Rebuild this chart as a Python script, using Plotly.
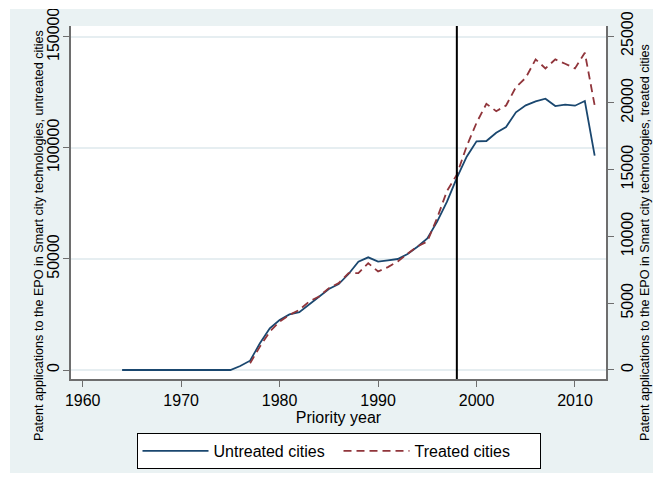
import plotly.graph_objects as go

years = list(range(1964, 2013))
untreated = [0, 0, 0, 0, 0, 0, 0, 0, 0, 0, 0, 0,
             1800, 4200, 12000, 18750, 22500, 25000, 26000, 29700, 33000, 36450,
             38700, 43200, 48750, 50700, 48750, 49350, 49950, 52200, 55500, 59250,
             66750, 75750, 86500, 96000, 102900, 103050, 106800, 109350, 115950,
             119100, 120900, 122100, 118800, 119400, 118950, 121050, 96500]
treated = [None] * 13 + [
             500, 1750, 2870, 3620, 4125, 4500, 5125, 5500, 6125, 6500,
             7250, 7250, 8000, 7375, 7700, 8125, 8700, 9250, 9625, 11375,
             13400, 14625, 16750, 18500, 19925, 19375, 19800, 21175, 21875,
             23250, 22575, 23250, 22925, 22575, 23750, 19800]
x_ticks = [1960, 1970, 1980, 1990, 2000, 2010]
left_ticks = [0, 50000, 100000, 150000]
right_ticks = [0, 5000, 10000, 15000, 20000, 25000]
treatment_year = 1998

W, H = 662, 482
L, R, T, B = 71, 606, 26, 379
FONT = "Liberation Sans, Arial, sans-serif"
AX = "#6e6e6e"
BG = "#eaf2f3"

def px_x(p):
    return (p - L) / (R - L)

def px_y(p):
    return (B - p) / (B - T)

fig = go.Figure()
fig.add_trace(go.Scatter(x=years, y=untreated, mode="lines", name="Untreated cities",
                         line=dict(color="#1a476f", width=1.8), yaxis="y"))
fig.add_trace(go.Scatter(x=years, y=treated, mode="lines", name="Treated cities",
                         line=dict(color="#90353b", width=1.8, dash="8px,5px"), yaxis="y2"))

def white_rect(x0, x1, y0, y1):
    return dict(type="rect", xref="paper", yref="paper",
                x0=px_x(x0), x1=px_x(x1), y0=px_y(y1), y1=px_y(y0),
                fillcolor="white", line=dict(width=0), layer="above")

shapes = [
    white_rect(-2, W + 2, -2, 9),
    white_rect(-2, W + 2, 473, H + 2),
    white_rect(-2, 10, -2, H + 2),
    white_rect(653, W + 2, -2, H + 2),
    dict(type="line", xref="x", yref="paper", x0=treatment_year, x1=treatment_year,
         y0=0, y1=1, line=dict(color="black", width=2)),
]

annotations = [
    dict(text="Patent applications to the EPO in Smart city technologies, untreated cities",
         xref="paper", yref="paper", x=px_x(39), y=px_y(236), showarrow=False,
         textangle=-90, font=dict(family=FONT, size=12.6, color="black"),
         xanchor="center", yanchor="middle"),
    dict(text="Patent applications to the EPO in Smart city technologies, treated cities",
         xref="paper", yref="paper", x=px_x(645), y=px_y(243), showarrow=False,
         textangle=-90, font=dict(family=FONT, size=12.6, color="black"),
         xanchor="center", yanchor="middle"),
]

fig.update_layout(
    width=W, height=H,
    margin=dict(l=L, r=W - R, t=T, b=H - B, pad=0, autoexpand=False),
    paper_bgcolor=BG, plot_bgcolor="white",
    font=dict(family=FONT, size=16, color="black"),
    shapes=shapes, annotations=annotations,
    xaxis=dict(range=[1958.81, 2013.15], tickvals=x_ticks, showgrid=False, zeroline=False,
               showline=True, linecolor=AX, linewidth=1.5, ticks="outside", ticklen=6,
               tickcolor=AX, tickwidth=1.2, tickfont=dict(size=16),
               title=dict(text="Priority year", font=dict(size=16), standoff=1)),
    yaxis=dict(range=[-4050, 154815], tickvals=left_ticks,
               ticktext=[str(v) for v in left_ticks], tickangle=-90,
               ticklabelstandoff=-2,
               showgrid=True, gridcolor="#e6eef1", gridwidth=1.5, zeroline=False,
               showline=True, linecolor=AX, linewidth=1.5, ticks="outside", ticklen=6,
               tickcolor=AX, tickwidth=1.2, tickfont=dict(size=16)),
    yaxis2=dict(range=[-675, 25750], tickvals=right_ticks,
                ticktext=[str(v) for v in right_ticks], tickangle=-90,
                overlaying="y", side="right", showgrid=False, zeroline=False,
                showline=True, linecolor=AX, linewidth=1.5, ticks="outside", ticklen=6,
                tickcolor=AX, tickwidth=1.2, tickfont=dict(size=16)),
    showlegend=True,
    legend=dict(orientation="h", x=0.5, xanchor="center", y=px_y(433), yanchor="top",
                bgcolor="white", bordercolor="black", borderwidth=1,
                font=dict(size=16), itemwidth=66, entrywidth=120),
)

fig.write_html("out.html", config={"displayModeBar": False},
               post_script="document.body.style.margin='0';document.body.style.padding='0';")
